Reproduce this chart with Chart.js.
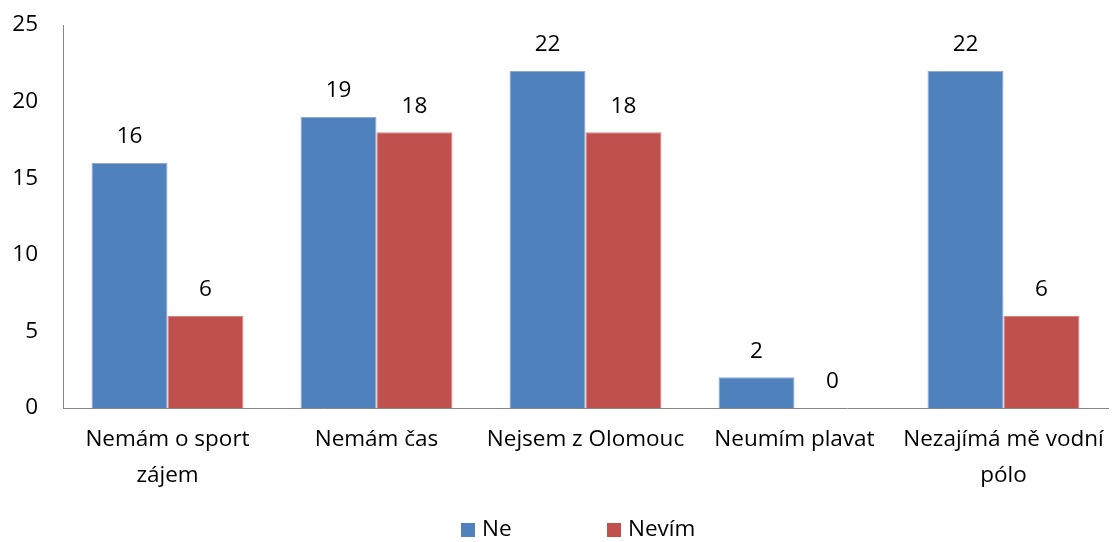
<!DOCTYPE html>
<html>
<head>
<meta charset="utf-8">
<script src="https://cdn.jsdelivr.net/npm/chart.js@4/dist/chart.umd.min.js"></script>
<style>
  html, body { margin: 0; padding: 0; background: #ffffff; }
  #wrap { width: 1114px; height: 542px; position: relative; }
</style>
</head>
<body>
<div id="wrap"><canvas id="c"></canvas></div>
<script>
// Reasons given for not attending water polo
const categories = [
  ["Nemám o sport", "zájem"],
  "Nemám čas",
  "Nejsem z Olomouc",
  "Neumím plavat",
  ["Nezajímá mě vodní", "pólo"]
];
const seriesNames = ["Ne", "Nevím"];
const neValues = [16, 19, 22, 2, 22];
const nevimValues = [6, 18, 18, 0, 6];
const yTicks = [0, 5, 10, 15, 20, 25];

const FONT = "'Open Sans', 'Liberation Sans', sans-serif";
const FONT_SIZE = 22.5;
const BLUE = "#4F81BD";
const RED = "#C0504D";

// Value labels above each bar
const valueLabels = {
  id: "valueLabels",
  afterDatasetsDraw(chart) {
    const ctx = chart.ctx;
    ctx.save();
    ctx.font = FONT_SIZE + "px " + FONT;
    ctx.fillStyle = "#000000";
    ctx.textAlign = "center";
    ctx.textBaseline = "middle";
    chart.data.datasets.forEach((ds, i) => {
      const meta = chart.getDatasetMeta(i);
      meta.data.forEach((el, j) => {
        ctx.fillText(String(ds.data[j]), el.x, el.y - 26);
      });
    });
    ctx.restore();
  }
};

// Legend row at the bottom
const bottomLegend = {
  id: "bottomLegend",
  afterDraw(chart) {
    const ctx = chart.ctx;
    ctx.save();
    ctx.font = FONT_SIZE + "px " + FONT;
    ctx.textBaseline = "middle";
    const y = 530;
    let x = chart.width / 2 - 96;
    chart.data.datasets.forEach(ds => {
      ctx.fillStyle = ds.backgroundColor;
      ctx.fillRect(x, y - 7, 14, 14);
      ctx.fillStyle = "#000000";
      ctx.textAlign = "left";
      ctx.fillText(ds.label, x + 21, y);
      x += 146;
    });
    ctx.restore();
  }
};

new Chart(document.getElementById("c"), {
  type: "bar",
  data: {
    labels: categories,
    datasets: [
      { label: seriesNames[0], data: neValues, backgroundColor: BLUE, borderColor: "#8FAAD3", borderWidth: 1 },
      { label: seriesNames[1], data: nevimValues, backgroundColor: RED, borderColor: "#D48583", borderWidth: 1 }
    ]
  },
  options: {
    responsive: true,
    maintainAspectRatio: false,
    animation: false,
    layout: { padding: { top: 25, right: 6, bottom: 0, left: 0 } },
    datasets: { bar: { categoryPercentage: 0.727, barPercentage: 1.0 } },
    plugins: {
      legend: { display: false },
      tooltip: { enabled: false }
    },
    scales: {
      x: {
        grid: { display: false, drawTicks: false },
        border: { display: true, color: "#868686", width: 1 },
        ticks: {
          color: "#000000",
          font: { family: FONT, size: FONT_SIZE, lineHeight: 1.6 },
          padding: 14,
          maxRotation: 0,
          autoSkip: false
        },
        afterFit(scale) {
          scale.height = 134;
          scale.paddingLeft = 0;
          scale.paddingRight = 0;
        }
      },
      y: {
        min: 0,
        max: 25,
        afterBuildTicks(scale) { scale.ticks = yTicks.map(v => ({ value: v })); },
        grid: { display: false, drawTicks: false },
        border: { display: true, color: "#868686", width: 1 },
        ticks: {
          color: "#000000",
          font: { family: FONT, size: FONT_SIZE },
          padding: 25
        },
        afterFit(scale) {
          scale.width = 63;
          scale.paddingTop = 0;
          scale.paddingBottom = 0;
        }
      }
    }
  },
  plugins: [valueLabels, bottomLegend]
});
</script>
</body>
</html>
